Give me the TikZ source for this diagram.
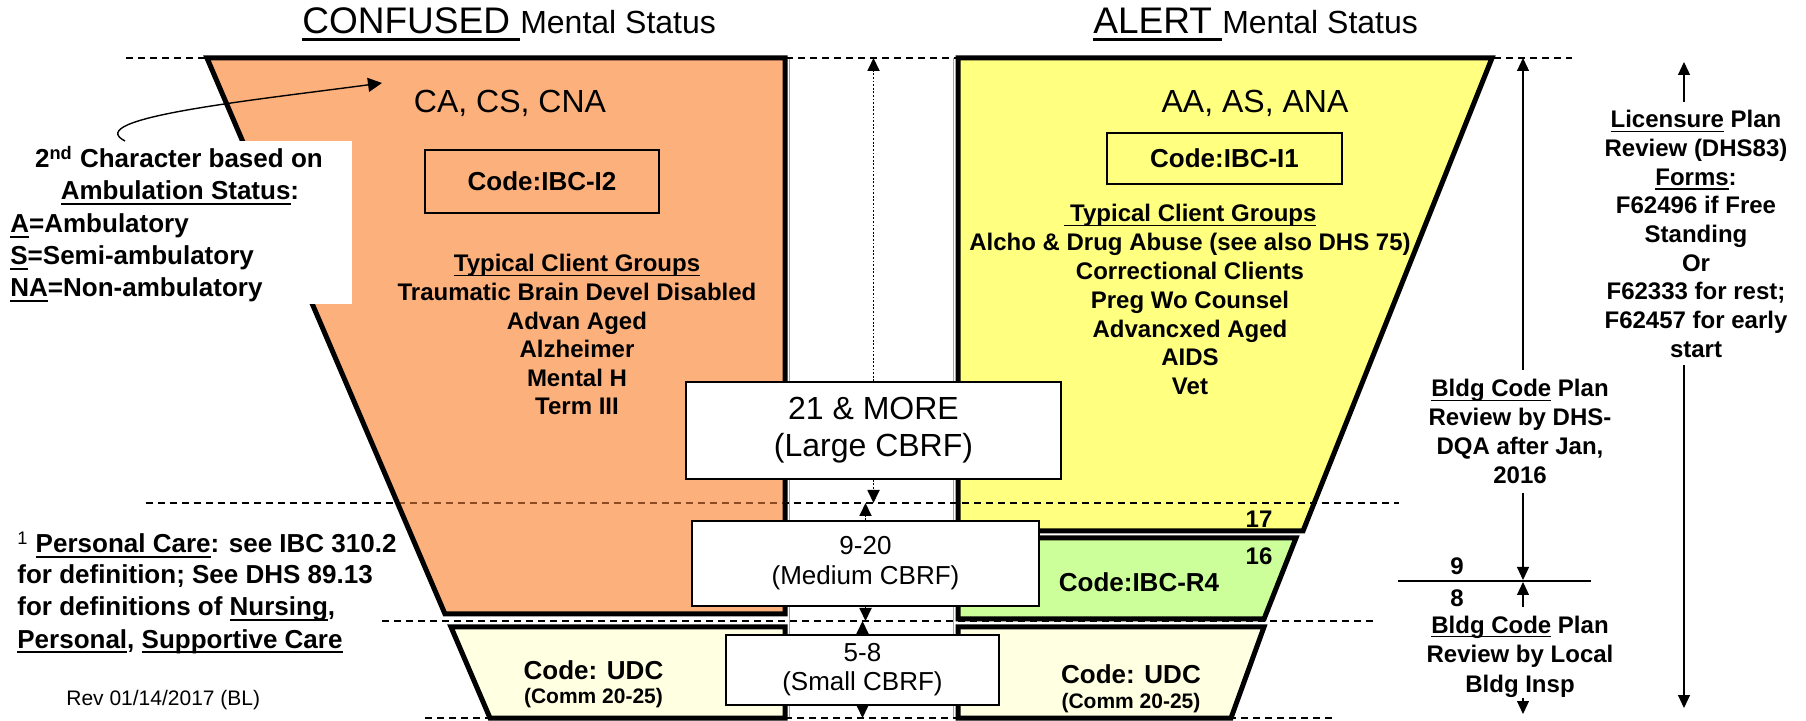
\documentclass[tikz,border=0pt]{standalone}
\usepackage{fontspec}
\setmainfont{Liberation Sans}
\usetikzlibrary{arrows.meta}
\definecolor{orangefill}{RGB}{252,176,124}
\definecolor{yellowfill}{RGB}{255,255,128}
\definecolor{greenfill}{RGB}{204,255,153}
\definecolor{creamfill}{RGB}{255,255,225}
\definecolor{dashbrown}{RGB}{140,75,35}
\newcommand{\myul}[1]{\leavevmode\setbox0=\hbox{#1}\rlap{\rule[-0.18em]{\wd0}{0.075em}}\box0\relax}
\tikzset{
  trap/.style={draw=black, line width=2.5pt, line join=miter},
  dashline/.style={dash pattern=on 3.5pt off 2.5pt, line width=0.8pt},
  codebox/.style={draw, line width=0.8pt, inner sep=0pt, font=\fontsize{13}{15}\selectfont\bfseries},
  cbrf/.style={draw, fill=white, line width=0.8pt, align=center},
  tb12/.style={font=\fontsize{12}{14}\selectfont\bfseries, inner sep=0pt, anchor=base},
  tb13/.style={font=\fontsize{13}{15}\selectfont\bfseries, inner sep=0pt, anchor=base},
  tr16/.style={font=\fontsize{16}{18}\selectfont, inner sep=0pt, anchor=base},
  arr/.style={-{Triangle[length=6.5pt,width=6pt]}, line width=0.6pt},
  dotarr/.style={arr, line width=0.9pt, dash pattern=on 0.9pt off 0.9pt},
}
\begin{document}
\begin{tikzpicture}[x=0.5pt,y=-0.5pt]
\useasboundingbox (0,0) rectangle (1806,721);
% fills
\fill[orangefill] (207,58) -- (785,58) -- (785,614) -- (445,614) -- cycle;
\fill[yellowfill] (958,58) -- (1492,58) -- (1303,531) -- (958,531) -- cycle;
\fill[greenfill] (958,538) -- (1296,538) -- (1264,619) -- (958,619) -- cycle;
\fill[creamfill] (451,627) -- (785,627) -- (785,718) -- (490,718) -- cycle;
\fill[creamfill] (958,627) -- (1264,627) -- (1231,718) -- (958,718) -- cycle;
% faint column lines
\draw[black!35, line width=0.4pt] (789.5,58) -- (789.5,718);
\draw[black!35, line width=0.4pt] (953.5,58) -- (953.5,718);
% dashed level lines
\draw[dashline] (126,58) -- (1572,58);
\draw[dashline] (146,503) -- (1399,503);
\begin{scope}
  \clip (207,58) -- (785,58) -- (785,614) -- (445,614) -- cycle;
  \draw[dashline, dashbrown, line width=1pt] (146,503) -- (1399,503);
\end{scope}
\draw[dashline] (382,621) -- (1374,621);
\draw[dashline] (425,718) -- (1336,718);
% borders
\draw[trap] (207,58) -- (785,58) -- (785,614) -- (445,614) -- cycle;
\draw[trap] (958,58) -- (1492,58) -- (1303,531) -- (958,531) -- cycle;
\draw[trap] (958,538) -- (1296,538) -- (1264,619) -- (958,619) -- cycle;
\draw[trap] (451,627) -- (785,627) -- (785,718) -- (490,718) -- cycle;
\draw[trap] (958,627) -- (1264,627) -- (1231,718) -- (958,718) -- cycle;

% titles
\node[anchor=base west, inner sep=0pt] (ttlL) at (302,34)
  {\fontsize{18.5}{20}\selectfont\myul{CONFUSED }\fontsize{16}{18}\selectfont Mental Status};
\node[anchor=base west, inner sep=0pt] (ttlR) at (1093,34)
  {\fontsize{18.5}{20}\selectfont\myul{ALERT }\fontsize{16}{18}\selectfont Mental Status};

\node[tr16] (caL) at (510,113) {CA, CS, CNA};
\node[tr16] (caR) at (1255,113) {AA, AS, ANA};

\node[codebox, minimum width=117pt, minimum height=31.5pt] (cI2) at (542,181.5) {Code:IBC-I2};
\node[codebox, minimum width=117.5pt, minimum height=25.5pt] (cI1) at (1224.5,158.5) {Code:IBC-I1};

% client groups
\foreach \t [count=\i] in {{\myul{Typical Client Groups}},{Traumatic Brain Devel Disabled},{Advan Aged},{Alzheimer},{Mental H},{Term III}}
  \node[tb12] (gl\i) at (577,{272+28.6*(\i-1)}) {\t};
\foreach \t [count=\i] in {{\myul{\ Typical Client Groups}},{Alcho \& Drug Abuse (see also DHS 75)},{Correctional Clients},{Preg Wo Counsel},{Advancxed Aged},{AIDS},{Vet}}
  \node[tb12] (gr\i) at (1190,{222+28.8*(\i-1)}) {\t};

% callout
\fill[white] (0,141) rectangle (352,304);
\node[tb13] (co1) at (179,168) {2\textsuperscript{nd} Character based on};
\node[tb13] (co2) at (180,200) {\myul{Ambulation Status}:};
\node[tb13, anchor=base west] (co3) at (10,233) {\myul{A}=Ambulatory};
\node[tb13, anchor=base west] (co4) at (10,265) {\myul{S}=Semi-ambulatory};
\node[tb13, anchor=base west] (co5) at (10,297) {\myul{NA}=Non-ambulatory};
\coordinate (cstart) at (125,141);
\coordinate (cend) at (382,83);
\draw[-{Triangle[length=7pt,width=7pt]}, line width=0.7pt] (cstart) .. controls (80,118) and (255,100) .. (cend);

% footnote
\node[tb13, anchor=base west] (fn1) at (17,553) {\textsuperscript{\mdseries 1} \myul{Personal Care}: see IBC 310.2};
\node[tb13, anchor=base west] (fn2) at (17,584) {for definition; See DHS 89.13};
\node[tb13, anchor=base west] (fn3) at (17,616) {for definitions of \myul{Nursing},};
\node[tb13, anchor=base west] (fn4) at (17,648) {\myul{Personal}, \myul{Supportive Care}};
\node[anchor=base west, inner sep=0pt, font=\fontsize{10.5}{12}\selectfont] (rev) at (66,705) {Rev 01/14/2017 (BL)};

% lower codes
\node[tb12] (n17) at (1259,528) {17};
\node[tb12] (n16) at (1259,565) {16};
\node[tb13] (r4) at (1139,592) {Code:IBC-R4};
\node[tb13] (udcL) at (593.5,680) {Code: UDC};
\node[tb12, font=\fontsize{10.5}{12}\selectfont\bfseries] (commL) at (593.5,704) {(Comm 20-25)};
\node[tb13] (udcR) at (1131,683) {Code: UDC};
\node[tb12, font=\fontsize{10.5}{12}\selectfont\bfseries] (commR) at (1131,708) {(Comm 20-25)};

% center boxes
\node[cbrf, minimum width=187.5pt, minimum height=48.5pt, font=\fontsize{16}{18.5}\selectfont] (big) at (873.5,430.5) {21 \& MORE\\(Large CBRF)};
\node[cbrf, minimum width=173.5pt, minimum height=42.5pt, font=\fontsize{13}{15}\selectfont] (med) at (865.5,563.5) {9-20\\(Medium CBRF)};
\node[cbrf, minimum width=136.5pt, minimum height=35pt, font=\fontsize{13}{14.5}\selectfont] (small) at (862.5,670) {5-8\\(Small CBRF)};

\coordinate (ctop) at (873.5,58);
\coordinate (m1a) at (873.5,503);
\coordinate (m1b) at (865.5,503);
\coordinate (m2a) at (865.5,621);
\coordinate (m2b) at (862.5,621);
\coordinate (m3) at (862.5,718);
\draw[dotarr] (big.north) -- (ctop);
\draw[dotarr] (big.south) -- (m1a);
\draw[dotarr] (med.north) -- (m1b);
\draw[dotarr] (med.south) -- (m2a);
\draw[dotarr] (small.north) -- (m2b);
\draw[dotarr] (small.south) -- (m3);

% right column: licensure
\foreach \t [count=\i] in {{\myul{Licensure} Plan},{Review (DHS83)},{\myul{Forms}:},{F62496 if Free},{Standing},{Or},{F62333 for rest;},{F62457 for early},{start}}
  \node[tb12] (lic\i) at (1696,{128+28.65*(\i-1)}) {\t};
\coordinate (licA) at (1684,102);
\coordinate (licTip) at (1684,62);
\coordinate (licB) at (1684,365);
\coordinate (licEnd) at (1684,708);
\draw[arr] (licA) -- (licTip);
\draw[arr] (licB) -- (licEnd);

% bldg code column
\foreach \t [count=\i] in {{\myul{Bldg Code} Plan},{Review by DHS-},{DQA after Jan,},{2016}}
  \node[tb12] (dq\i) at (1520,{397+28.7*(\i-1)}) {\t};
\foreach \t [count=\i] in {{\myul{Bldg Code} Plan},{Review by Local},{Bldg Insp}}
  \node[tb12] (lo\i) at (1520,{633+29.5*(\i-1)}) {\t};
\node[tb12] (n9) at (1457,575) {9};
\node[tb12] (n8) at (1457,607) {8};
\coordinate (dA) at (1523,370);
\coordinate (dTip) at (1523,58);
\coordinate (dB) at (1523,493);
\coordinate (d9) at (1523,580);
\coordinate (dC) at (1523,607);
\coordinate (d8) at (1523,582);
\coordinate (hL) at (1398,581);
\coordinate (hR) at (1591,581);
\coordinate (lA) at (1523,698);
\coordinate (lTip) at (1523,714);
\draw[arr] (dA) -- (dTip);
\draw[arr] (dB) -- (d9);
\draw[arr] (dC) -- (d8);
\draw[line width=0.8pt] (hL) -- (hR);
\draw[arr] (lA) -- (lTip);
\end{tikzpicture}
\end{document}
